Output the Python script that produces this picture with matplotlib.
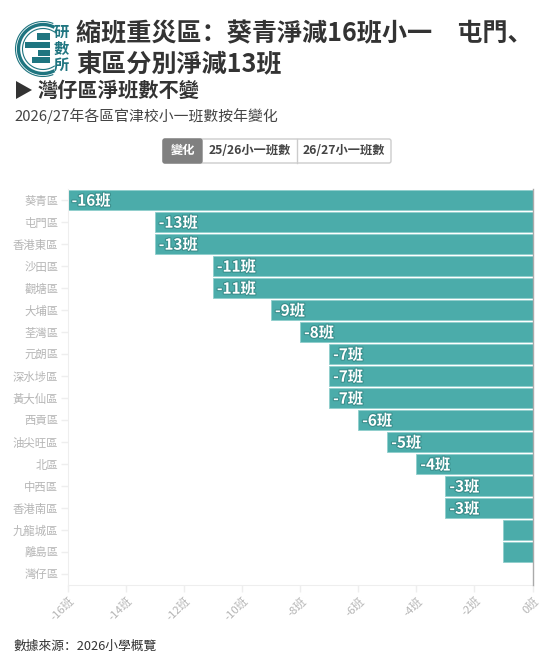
#!/usr/bin/env python3
# -*- coding: utf-8 -*-
import matplotlib
matplotlib.use("Agg")
import matplotlib.pyplot as plt
import matplotlib.patheffects as pe
from matplotlib.patches import Arc, Rectangle, FancyBboxPatch, Polygon

plt.rcParams['font.family'] = ['Noto Sans CJK SC', 'DejaVu Sans']

# --- dados ---
districts = ["葵青區", "屯門區", "香港東區", "沙田區", "觀塘區", "大埔區", "荃灣區", "元朗區", "深水埗區",
             "黃大仙區", "西貢區", "油尖旺區", "北區", "中西區", "香港南區", "九龍城區", "離島區", "灣仔區"]
changes = [-16, -13, -13, -11, -11, -9, -8, -7, -7, -7, -6, -5, -4, -3, -3, -1, -1, 0]
xticks = [-16, -14, -12, -10, -8, -6, -4, -2, 0]
buttons = ["變化", "25/26小一班數", "26/27小一班數"]

W, H = 551, 666
TEAL = "#4bacaa"
LOGO = "#1f7580"
GRID = "#eeeeee"
LABEL = "#b5b5b5"

fig = plt.figure(figsize=(W / 100, H / 100), dpi=100)

# camada de fundo em pixels
bg = fig.add_axes([0, 0, 1, 1])
bg.set_xlim(0, W)
bg.set_ylim(H, 0)
bg.axis("off")

# logo
for d, lw, t1, t2 in [(55, 0.8, 68, 292), (49, 2.4, 62, 298), (41, 0.8, 55, 305)]:
    bg.add_patch(Arc((43, 49), d, d, theta1=t1, theta2=t2, color=LOGO, lw=lw))
for x0, x1, y0, y1 in [(37, 50, 33, 40), (25, 50, 42, 48), (38, 50, 50, 56), (32, 50, 57, 63)]:
    bg.add_patch(Rectangle((x0, y0), x1 - x0, y1 - y0, color=LOGO, lw=0))
for txt, y in [("研", 32), ("數", 48.5), ("所", 65)]:
    bg.text(61, y, txt, fontsize=11, fontweight="bold", color=LOGO, ha="center", va="center")

# títulos
bg.text(76, 33.5, "縮班重災區：葵青淨減16班小一　屯門、", fontsize=18.1, fontweight="bold", color="#333333", va="center")
bg.text(76, 64.5, "東區分別淨減13班", fontsize=18.1, fontweight="bold", color="#333333", va="center")
bg.add_patch(Polygon([(16, 81), (16, 99), (32, 90)], closed=True, color="#333333", lw=0))
bg.text(38, 90, "灣仔區淨班數不變", fontsize=14.6, fontweight="bold", color="#333333", va="center")
bg.text(14, 116, "2026/27年各區官津校小一班數按年變化", fontsize=10.7, color="#444444", va="center")
bg.text(13.5, 646, "數據來源：2026小學概覽", fontsize=9.2, color="#333333", va="center")

# botões
bx = [163, 202, 297, 391]
bg.add_patch(FancyBboxPatch((bx[0], 139), bx[3] - bx[0], 24, boxstyle="round,pad=0,rounding_size=2",
                            fc="white", ec="#cccccc", lw=1))
bg.add_patch(FancyBboxPatch((bx[0], 139), bx[1] - bx[0], 24, boxstyle="round,pad=0,rounding_size=2",
                            fc="#808080", ec="#808080", lw=1))
bg.plot([bx[2], bx[2]], [139, 163], color="#cccccc", lw=1)
for i, b in enumerate(buttons):
    bg.text((bx[i] + bx[i + 1]) / 2, 150.5, b, fontsize=8.8, fontweight="bold", ha="center", va="center",
            color="white" if i == 0 else "#444444")

# gráfico
left, right, top, bottom = 67.5, 532.5, 189, 585
ax = fig.add_axes([left / W, 1 - bottom / H, (right - left) / W, (bottom - top) / H])
ax.patch.set_alpha(0)
y = list(range(len(districts)))
ax.barh(y, changes, height=0.95, color=TEAL, edgecolor="#8fcfcc", linewidth=0.6, zorder=2)
ax.set_xlim(-16, 0)
ax.set_ylim(len(districts) - 0.5, -0.5)
ax.set_yticks(y)
ax.set_yticklabels(districts, fontsize=8.2, color=LABEL)
ax.set_xticks(xticks)
ax.set_xticklabels([f"{v}班" for v in xticks], fontsize=8.2, color=LABEL, rotation=45,
                   ha="right", rotation_mode="anchor")
ax.tick_params(axis="both", length=5, width=1, color=GRID)
ax.tick_params(axis="y", pad=1.5)
ax.tick_params(axis="x", pad=2)
for s in ["top", "right"]:
    ax.spines[s].set_visible(False)
ax.spines["left"].set_color(GRID)
ax.spines["bottom"].set_color(GRID)
ax.axvline(0, color="#aaaaaa", lw=1, zorder=3, clip_on=False)

for yi, v in zip(y, changes):
    # sem rótulo nas barras curtas
    if v > -2:
        continue
    ax.text(v + 0.14, yi + 0.03, f"{v}班", fontsize=11, fontweight="bold", color="white", ha="left", va="center",
            zorder=4, path_effects=[pe.withStroke(linewidth=1.6, foreground="#3a8f8d")])

fig.savefig("out.png", dpi=100)
